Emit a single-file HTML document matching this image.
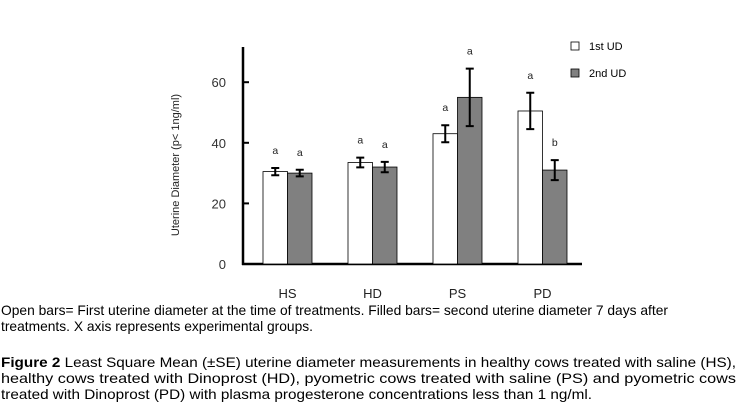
<!DOCTYPE html>
<html><head><meta charset="utf-8"><style>
body{margin:0;background:#fff;width:739px;height:412px;overflow:hidden}
svg{display:block}
text{font-family:"Liberation Sans",sans-serif}
</style></head><body>
<svg id="c" width="739" height="412">
<g id="chart"></g>
<g>
<rect x="571" y="42" width="8" height="8" fill="#fff" stroke="#000" stroke-width="0.8"/>
<text x="589" y="50" font-size="11">1st UD</text>
<rect x="571" y="69" width="8" height="8" fill="#808080" stroke="#000" stroke-width="0.8"/>
<text x="589" y="77" font-size="11">2nd UD</text>
</g>
<text transform="translate(179,165) rotate(-90)" text-anchor="middle" font-size="11" fill="#222">Uterine Diameter (p&lt; 1ng/ml)</text>
<g font-size="14">
<text x="1" y="315" textLength="667" lengthAdjust="spacingAndGlyphs">Open bars= First uterine diameter at the time of treatments. Filled bars= second uterine diameter 7 days after</text>
<text x="1" y="331" textLength="312" lengthAdjust="spacingAndGlyphs">treatments. X axis represents experimental groups.</text>
<text x="1" y="367" textLength="735" lengthAdjust="spacingAndGlyphs"><tspan font-weight="bold">Figure 2</tspan> Least Square Mean (±SE) uterine diameter measurements in healthy cows treated with saline (HS),</text>
<text x="1" y="383" textLength="735" lengthAdjust="spacingAndGlyphs">healthy cows treated with Dinoprost (HD), pyometric cows treated with saline (PS) and pyometric cows</text>
<text x="1" y="399" textLength="591" lengthAdjust="spacingAndGlyphs">treated with Dinoprost (PD) with plasma progesterone concentrations less than 1 ng/ml.</text>
</g>
</svg>
<script>
const categories=["HS","HD","PS","PD"];
const firstUD=[30.5,33.5,43,50.5];
const secondUD=[30,32,55,31];
const firstErr=[1.2,1.6,2.8,6];
const secondErr=[1.1,1.7,9.5,3.3];
const firstLetters=["a","a","a","a"];
const secondLetters=["a","a","a","b"];
const yTicks=[0,20,40,60];
const NS="http://www.w3.org/2000/svg";
const g=document.getElementById('chart');
const x0=243,baseY=264,pxPer=3.03,groupStart=263,groupStep=85,barW=24.5;
const y=v=>baseY-v*pxPer;
function mk(tag,attrs,txt){const e=document.createElementNS(NS,tag);for(const k in attrs)e.setAttribute(k,attrs[k]);if(txt!=null)e.textContent=txt;g.appendChild(e);return e;}
let e=mk('line',{x1:x0,y1:47,x2:x0,y2:baseY+1,stroke:'#000','stroke-width':2.5});


e=mk('line',{x1:x0-1,y1:baseY,x2:582,y2:baseY,stroke:'#000','stroke-width':2.5});


yTicks.forEach(t=>{
 if(t>0){e=mk('line',{x1:x0,y1:y(t),x2:x0+6,y2:y(t),stroke:'#000','stroke-width':2});
 
 }
 e=mk('text',{x:x0-17,y:y(t)+5,'text-anchor':'end','font-size':13,fill:'#333'},t);
 
 
});
function bar(xl,v,err,fill,letter,name){
 e=mk('rect',{x:xl,y:y(v),width:barW,height:baseY-y(v),fill:fill,stroke:'#000','stroke-width':0.8});
 
 
 const cx=xl+barW/2;
 e=mk('path',{d:`M${cx} ${y(v+err)}V${y(v-err)}M${cx-4} ${y(v+err)}H${cx+4}M${cx-4} ${y(v-err)}H${cx+4}`,stroke:'#000','stroke-width':2,fill:'none'});
 
 
 e=mk('text',{x:cx,y:y(v+err)-14,'text-anchor':'middle','font-size':10.5,fill:'#222'},letter);
 
 
}
categories.forEach((c,i)=>{
 const gx=groupStart+i*groupStep;
 bar(gx,firstUD[i],firstErr[i],'#fff',firstLetters[i],'bar-1st-'+c.toLowerCase());
 bar(gx+barW,secondUD[i],secondErr[i],'#808080',secondLetters[i],'bar-2nd-'+c.toLowerCase());
 e=mk('text',{x:gx+barW,y:298,'text-anchor':'middle','font-size':13,fill:'#222'},c);
 
 
});
</script>
</body></html>
